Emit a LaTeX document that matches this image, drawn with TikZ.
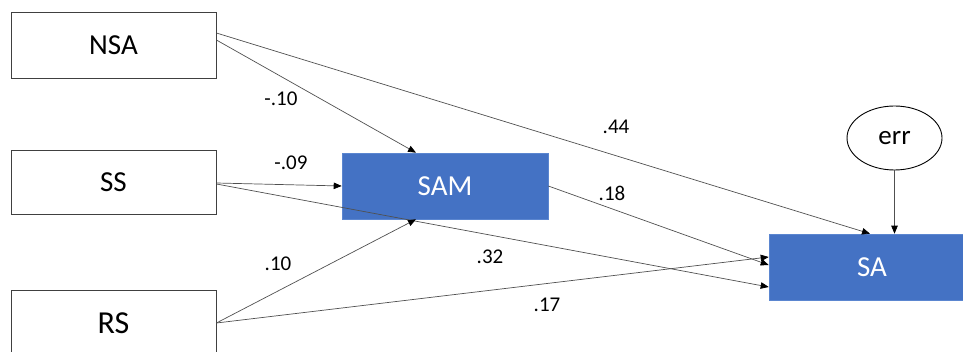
\documentclass[tikz,border=0pt]{standalone}
\usepackage{fontspec}
\setmainfont{Carlito}
\usetikzlibrary{arrows.meta,shapes.geometric}
\definecolor{officeblue}{HTML}{4472C4}
\definecolor{blueedge}{HTML}{5B86D0}
\definecolor{pathgray}{HTML}{505050}
\tikzset{
  varbox/.style={draw=black!75, line width=0.8pt, fill=white, minimum width=205pt,
    minimum height=66pt, inner sep=0pt, font=\fontsize{29}{32}\selectfont},
  bluebox/.style={draw=blueedge, line width=0.6pt, fill=officeblue, text=white,
    minimum width=206pt, minimum height=66pt, inner sep=0pt,
    font=\fontsize{29}{32}\selectfont},
  errnode/.style={draw=black, line width=0.9pt, ellipse, minimum width=95pt,
    minimum height=64pt, inner sep=0pt, font=\fontsize{27}{30}\selectfont},
  sempath/.style={draw=pathgray, line width=0.7pt,
    -{Triangle[length=8pt,width=6.5pt,color=black]}},
  coef/.style={inner sep=0pt, font=\fontsize{21}{24}\selectfont}
}
\begin{document}
\begin{tikzpicture}[x=1pt, y=-1pt]
\useasboundingbox (0,0) rectangle (963,352);
\begin{scope}
\clip (0,0) rectangle (963,352);
% observed variables
\node[varbox] (nsa) at (113.5,45) {NSA};
\node[varbox, minimum height=64pt] (ss) at (113.5,182) {SS};
\node[varbox, font=\fontsize{32}{35}\selectfont] (rs) at (113.5,323) {RS};
\node[bluebox] (sam) at (445,186) {SAM};
\node[bluebox] (sa) at (872,267) {SA};
\node[errnode] (err) at (894.5,138) {err};

% structural paths
\draw[sempath] ([yshift=12pt]nsa.east) -- ([xshift=-2pt]sa.north);
\draw[sempath] ([yshift=5pt]nsa.east) -- ([xshift=-29pt]sam.north);
\draw[sempath] ([yshift=-1pt]ss.east) -- (sam.west);
\draw[sempath] ([yshift=-2pt]ss.east) -- ([yshift=-20pt]sa.west);
\draw[sempath] (rs.east) -- ([xshift=-29pt]sam.south);
\draw[sempath] (rs.east) -- ([yshift=10pt]sa.west);
\draw[sempath] (sam.east) -- ([yshift=2pt]sa.west);
\draw[sempath] (err.south) -- ([xshift=22.5pt]sa.north);
\end{scope}

% path coefficients
\node[coef] (c1) at (281,99) {-.10};
\node[coef] (c2) at (291,163) {-.09};
\node[coef] (c3) at (278,264) {.10};
\node[coef] (c4) at (616,127) {.44};
\node[coef] (c5) at (612,193) {.18};
\node[coef] (c6) at (490,257) {.32};
\node[coef] (c7) at (547,305) {.17};
\end{tikzpicture}
\end{document}
